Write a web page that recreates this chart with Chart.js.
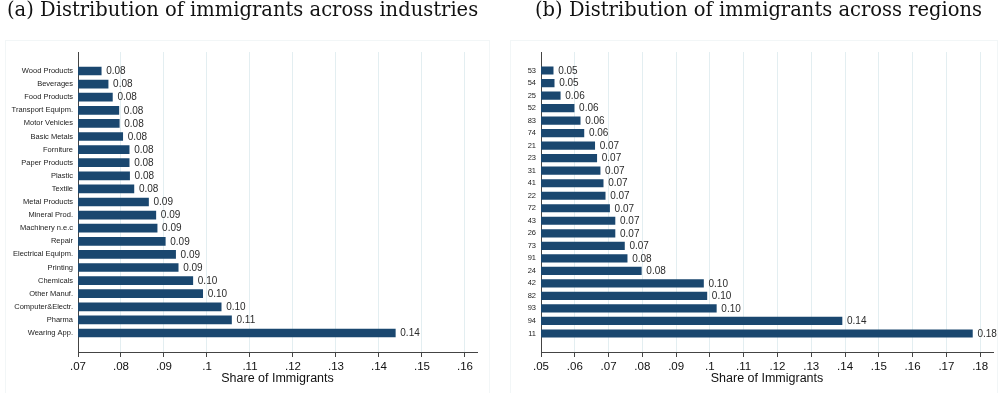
<!DOCTYPE html>
<html>
<head>
<meta charset="utf-8">
<script src="https://cdn.jsdelivr.net/npm/chart.js@4.4.1/dist/chart.umd.min.js"></script>
<style>
  body { margin: 0; background: #fff; }
  #wrap { position: relative; width: 1002px; height: 393px; overflow: hidden; }
  .title { position: absolute; top: -4px; font-family: "DejaVu Serif", serif; font-size: 19.5px; line-height: 28px; white-space: nowrap; color: #111; z-index: 2; }
  canvas { position: absolute; top: 0; }
</style>
</head>
<body>
<div id="wrap">
  <div class="title" style="left:7px">(a) Distribution of immigrants across industries</div>
  <div class="title" style="left:535px">(b) Distribution of immigrants across regions</div>
  <canvas id="industryChart" width="500" height="393" style="left:0"></canvas>
  <canvas id="regionChart" width="502" height="393" style="left:500px"></canvas>
</div>
<script>
// industries, sorted from smallest share to largest
const industries = ['Wood Products', 'Beverages', 'Food Products', 'Transport Equipm.', 'Motor Vehicles',
    'Basic Metals', 'Forniture', 'Paper Products', 'Plastic', 'Textile', 'Metal Products', 'Mineral Prod.',
    'Machinery n.e.c', 'Repair', 'Electrical Equipm.', 'Printing', 'Chemicals', 'Other Manuf.',
    'Computer&Electr.', 'Pharma', 'Wearing App.'];
const industryShares = [0.0754, 0.0770, 0.0780, 0.0795, 0.0796, 0.0804, 0.0819, 0.0819, 0.0820, 0.0830,
    0.0864, 0.0881, 0.0884, 0.0903, 0.0927, 0.0933, 0.0967, 0.0990, 0.1033, 0.1057, 0.1438];
const industryTicks = [0.07, 0.08, 0.09, 0.10, 0.11, 0.12, 0.13, 0.14, 0.15, 0.16];

// regions (codes), same ordering
const regions = ['53', '54', '25', '52', '83', '74', '21', '23', '31', '41', '22', '72', '43', '26',
    '73', '91', '24', '42', '82', '93', '94', '11'];
const regionShares = [0.0536, 0.0539, 0.0557, 0.0598, 0.0616, 0.0627, 0.0659, 0.0665, 0.0675, 0.0684,
    0.0690, 0.0703, 0.0719, 0.0719, 0.0747, 0.0755, 0.0797, 0.0981, 0.0991, 0.1019, 0.1391, 0.1777];
const regionTicks = [0.05, 0.06, 0.07, 0.08, 0.09, 0.10, 0.11, 0.12, 0.13, 0.14, 0.15, 0.16, 0.17, 0.18];

const SANS = '"Liberation Sans", Arial, sans-serif';
const BAR = '#1a476f';

function shortTick(v) {
    return String(+v.toFixed(2)).replace(/^0\./, '.');
}

// writes the share next to the end of each bar
const valueLabels = {
    id: 'valueLabels',
    afterDatasetsDraw(chart) {
        const ctx = chart.ctx;
        const meta = chart.getDatasetMeta(0);
        const data = chart.data.datasets[0].data;
        ctx.save();
        ctx.font = '10px ' + SANS;
        ctx.fillStyle = '#2b2b2b';
        ctx.textBaseline = 'middle';
        ctx.textAlign = 'left';
        meta.data.forEach((bar, i) => {
            ctx.fillText(data[i].x.toFixed(2), bar.x + 5, bar.y + 0.5);
        });
        ctx.restore();
    }
};

// very light outline around each graph region
const regionFrame = {
    id: 'regionFrame',
    beforeDraw(chart, args, opts) {
        const ctx = chart.ctx;
        ctx.save();
        ctx.strokeStyle = '#f2f6f7';
        ctx.lineWidth = 1;
        ctx.strokeRect(opts.x + 0.5, 40.5, opts.w, 360);
        ctx.restore();
    }
};

function makeChart(id, labels, shares, ticks, opt) {
    const ctx = document.getElementById(id).getContext('2d');
    return new Chart(ctx, {
        type: 'bar',
        data: {
            datasets: [{
                data: shares.map((v, i) => ({ x: v, y: i })),
                backgroundColor: BAR,
                borderWidth: 0,
                barThickness: opt.bar
            }]
        },
        options: {
            indexAxis: 'y',
            responsive: false,
            animation: false,
            layout: { padding: { top: 52, right: opt.right, bottom: 0, left: 0 } },
            plugins: {
                legend: { display: false },
                tooltip: { enabled: false },
                regionFrame: opt.frame
            },
            scales: {
                y: {
                    type: 'linear',
                    reverse: true,
                    offset: false,
                    min: -opt.gap,
                    max: labels.length - 1 + opt.gap,
                    afterBuildTicks: s => { s.ticks = labels.map((_, i) => ({ value: i })); },
                    afterFit: s => { s.width = opt.left; },
                    ticks: {
                        callback: v => labels[v],
                        font: { family: SANS, size: 7.5 },
                        color: '#222',
                        padding: 5,
                        autoSkip: false
                    },
                    grid: { display: false, drawTicks: false },
                    border: { color: '#444', width: 1 }
                },
                x: {
                    type: 'linear',
                    min: opt.min,
                    max: opt.max,
                    afterBuildTicks: s => { s.ticks = ticks.map(v => ({ value: v })); },
                    afterFit: s => { s.height = 41; },
                    ticks: {
                        callback: v => shortTick(v),
                        font: { family: SANS, size: 11.5 },
                        color: '#111',
                        padding: 3,
                        maxRotation: 0,
                        autoSkip: false
                    },
                    grid: { color: '#e3eef1', tickColor: '#444', tickLength: 5, lineWidth: 1 },
                    border: { color: '#444', width: 1 },
                    title: {
                        display: true,
                        text: 'Share of Immigrants',
                        font: { family: SANS, size: 12.5 },
                        color: '#111',
                        padding: { top: 0, bottom: 6.5 }
                    }
                }
            }
        },
        plugins: [valueLabels, regionFrame]
    });
}

makeChart('industryChart', industries, industryShares, industryTicks,
    { min: 0.07, max: 0.1628, left: 78, right: 23, gap: 1.45, bar: 8, frame: { x: 5, w: 484 } });
makeChart('regionChart', regions, regionShares, regionTicks,
    { min: 0.05, max: 0.1838, left: 41, right: 9, gap: 1.48, bar: 7.5, frame: { x: 10, w: 487 } });
</script>
</body>
</html>
